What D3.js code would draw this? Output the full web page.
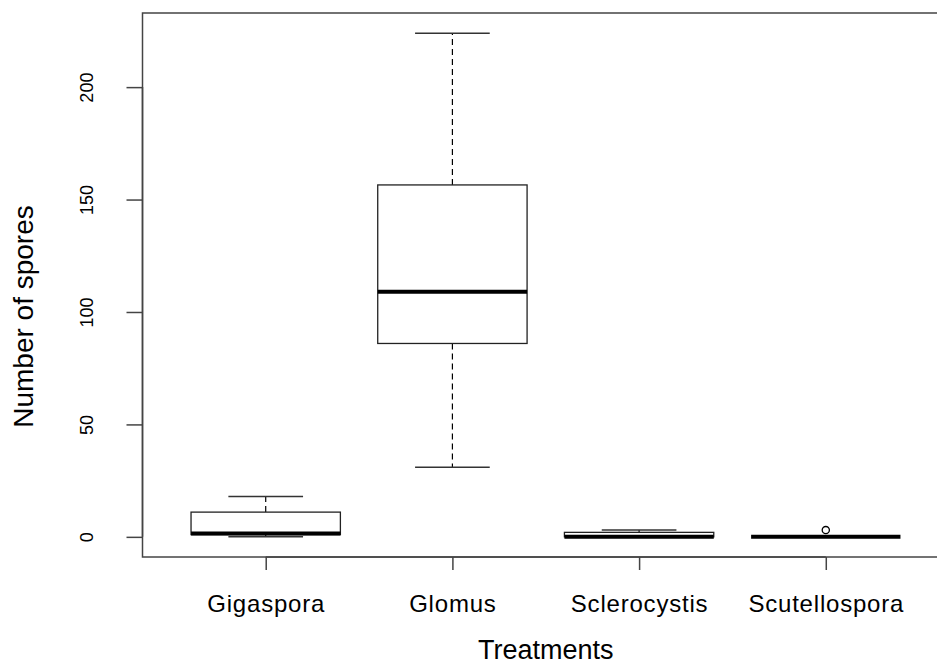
<html>
<meta charset="utf-8"></meta>
<script src="https://cdn.jsdelivr.net/npm/d3@7/dist/d3.min.js" charset="utf-8"></script>
<style>
body{margin:0;background:#fff;}
text{font-family:"Liberation Sans",Arial,sans-serif;fill:#000;}
</style>
<body>
<svg id="idSvg001" width="937" height="666"></svg>
<script type="text/javascript">
// values
var categories = ["Gigaspora", "Glomus", "Sclerocystis", "Scutellospora"];
var minVals = [0, 31, 0, 0];
var q1Vals = [1, 86, 0, 0];
var medVals = [1.5, 109, 0, 0];
var q3Vals = [11, 156.5, 2, 0];
var maxVals = [18, 224, 3, 0];
var outliers = [[], [], [], [3]];
var yTicks = [0, 50, 100, 150, 200];

function draw(){
	var svg = d3.select("#idSvg001");
	// R style: xlim 0.5..4.5 and ylim extended by 4%
	var x = d3.scaleLinear().domain([0.34, 4.66]).range([142.5, 949]);
	var y = d3.scaleLinear().domain([-8.96, 232.96]).range([557, 13]);
	var boxHalf = 0.4, capHalf = 0.2;

	var g = svg.append("g");
	categories.forEach(function(c, i){
		var cx = i + 1;
		// whiskers
		g.append("line").attr("x1", x(cx)).attr("x2", x(cx))
			.attr("y1", y(q3Vals[i])).attr("y2", y(maxVals[i]))
			.attr("stroke", "#000").attr("stroke-width", 1.2).attr("stroke-dasharray", "6,4");
		g.append("line").attr("x1", x(cx)).attr("x2", x(cx))
			.attr("y1", y(q1Vals[i])).attr("y2", y(minVals[i]))
			.attr("stroke", "#000").attr("stroke-width", 1.2).attr("stroke-dasharray", "6,4");
		// staples
		[minVals[i], maxVals[i]].forEach(function(v){
			g.append("line").attr("x1", x(cx - capHalf)).attr("x2", x(cx + capHalf))
				.attr("y1", y(v)).attr("y2", y(v))
				.attr("stroke", "#333").attr("stroke-width", 1.5);
		});
		// box
		g.append("rect").attr("x", x(cx - boxHalf)).attr("width", x(cx + boxHalf) - x(cx - boxHalf))
			.attr("y", y(q3Vals[i])).attr("height", Math.max(0, y(q1Vals[i]) - y(q3Vals[i])))
			.attr("fill", "#fff").attr("stroke", "#222").attr("stroke-width", 1.3);
		// median
		g.append("line").attr("x1", x(cx - boxHalf)).attr("x2", x(cx + boxHalf))
			.attr("y1", y(medVals[i])).attr("y2", y(medVals[i]))
			.attr("stroke", "#000").attr("stroke-width", 4);
		// outliers
		outliers[i].forEach(function(v){
			g.append("circle").attr("cx", x(cx)).attr("cy", y(v)).attr("r", 3.6)
				.attr("fill", "none").attr("stroke", "#000").attr("stroke-width", 1.3);
		});
	});

	// frame
	svg.append("rect").attr("x", 142.5).attr("y", 13).attr("width", 949 - 142.5).attr("height", 557 - 13)
		.attr("fill", "none").attr("stroke", "#444").attr("stroke-width", 1.5);

	// y axis
	var yAxis = svg.append("g").attr("transform", "translate(142.5,0)")
		.call(d3.axisLeft(y).tickValues(yTicks).tickSize(16).tickPadding(0).tickFormat(d3.format("d")));
	yAxis.select(".domain").attr("d", "M0," + y(0) + "V" + y(200)).attr("stroke", "#444").attr("stroke-width", 1.5);
	yAxis.selectAll(".tick line").attr("stroke", "#444").attr("stroke-width", 1.5);
	yAxis.selectAll(".tick text").attr("x", 0).attr("dy", 0)
		.attr("transform", "translate(-49.5,0) rotate(-90)")
		.attr("text-anchor", "middle").style("font-size", "18px").style("font-family", "Liberation Sans, Arial");

	// x axis
	var xAxis = svg.append("g").attr("transform", "translate(0,557)")
		.call(d3.axisBottom(x).tickValues([1, 2, 3, 4]).tickSize(13).tickPadding(0)
			.tickFormat(function(d){ return categories[d - 1]; }));
	xAxis.select(".domain").attr("d", "M" + x(1) + ",0H" + x(4)).attr("stroke", "#444").attr("stroke-width", 1.5);
	xAxis.selectAll(".tick line").attr("stroke", "#444").attr("stroke-width", 1.5);
	xAxis.selectAll(".tick text").attr("y", 55).attr("dy", 0)
		.style("font-size", "24px").style("letter-spacing", "0.8px").style("font-family", "Liberation Sans, Arial");

	// axis titles
	svg.append("text").attr("x", 545.7).attr("y", 659).attr("text-anchor", "middle")
		.style("font-size", "27px").text("Treatments");
	svg.append("text").attr("transform", "translate(33,316.5) rotate(-90)").attr("text-anchor", "middle")
		.style("font-size", "28px").text("Number of spores");
}
draw();
</script>
</body>
</html>
